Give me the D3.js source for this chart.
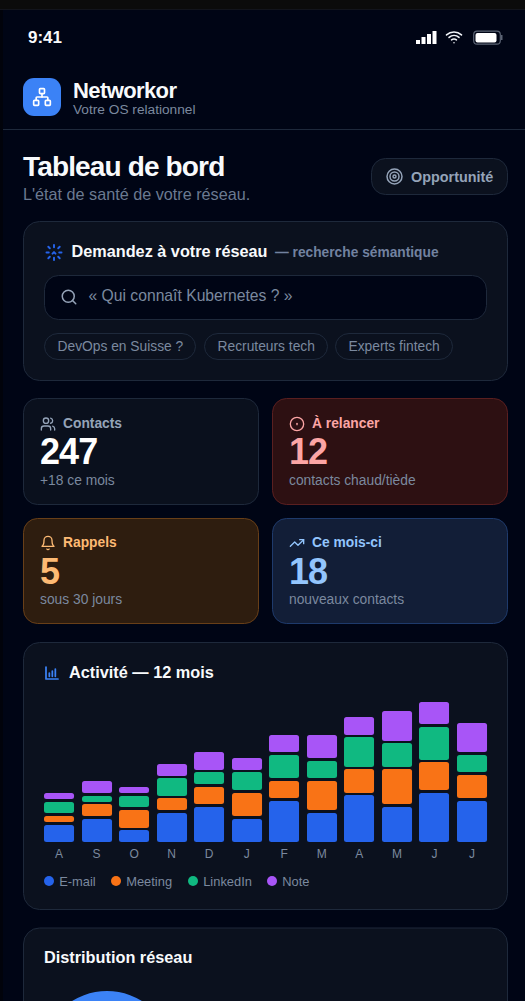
<!DOCTYPE html>
<html lang="fr"><head><meta charset="utf-8">
<script src="https://cdn.jsdelivr.net/npm/d3@7"></script>
<style>
html,body{margin:0;padding:0;background:#000515;overflow:hidden}
svg{display:block;font-family:"Liberation Sans",Arial,sans-serif}
</style></head><body>
<svg id="s" width="525" height="1001"></svg>
<script>
// ---- data ----
const months = ["A","S","O","N","D","J","F","M","A","M","J","J"];
const email    = [3,4,2,5,6,4,7,5,8,6,9,7];
const meeting  = [1,2,3,2,3,4,3,5,4,6,5,4];
const linkedin = [2,1,2,3,2,3,4,3,5,4,6,3];
const note     = [1,2,1,2,3,2,3,4,3,5,4,5];
const seriesNames = ["E-mail","Meeting","LinkedIn","Note"];
const seriesColors = ["#2563eb","#f97316","#10b981","#a855f7"];
const chips = ["DevOps en Suisse ?","Recruteurs tech","Experts fintech"];
const statTitles = ["Contacts","À relancer","Rappels","Ce mois-ci"];
const statValues = ["247","12","5","18"];
const statNotes = ["+18 ce mois","contacts chaud/tiède","sous 30 jours","nouveaux contacts"];

const svg = d3.select("#s");
const SUB="#7b899f", CARD="#0b111e", LINE="#1e293b";
function rect(x,y,w,h,r,fill,stroke){return svg.append("rect").attr("x",x+.5).attr("y",y+.5).attr("width",w-1).attr("height",h-1).attr("rx",r).attr("fill",fill).attr("stroke",stroke||"none");}
function text(s,x,y,size,fill,bold,ls,g){return (g||svg).append("text").attr("x",x).attr("y",y).attr("font-size",size).attr("fill",fill).attr("font-weight",bold?700:400).attr("letter-spacing",ls||null).text(s);}
function icon(cx,cy,size,color,sw,paths,circles){
  const g=svg.append("g").attr("transform",`translate(${cx-size/2},${cy-size/2}) scale(${size/24})`).attr("fill","none").attr("stroke",color).attr("stroke-width",sw).attr("stroke-linecap","round").attr("stroke-linejoin","round");
  (paths||[]).forEach(d=>g.append("path").attr("d",d));
  (circles||[]).forEach(c=>g.append("circle").attr("cx",c[0]).attr("cy",c[1]).attr("r",c[2]));
  return g;
}
// frame
svg.append("rect").attr("width",525).attr("height",9).attr("fill","#0b0b0b");
svg.append("rect").attr("y",9).attr("width",525).attr("height",1).attr("fill","#12141c");
svg.append("rect").attr("y",10).attr("width",3).attr("height",991).attr("fill","#01030b");
// status bar
text("9:41",28,43,17,"#f8fafc",true);
[4,7,10,13].forEach((h,i)=>svg.append("rect").attr("x",416+i*5.5).attr("y",44-h).attr("width",4).attr("height",h).attr("fill","#fff"));
icon(454,37,17,"#f1f5f9",2.2,["M5 12.55a11 11 0 0 1 14.08 0","M1.42 9a16 16 0 0 1 21.16 0","M8.53 16.11a6 6 0 0 1 6.95 0","M12 20h.01"]);
svg.append("rect").attr("x",473.7).attr("y",31.2).attr("width",26.6).attr("height",13).attr("rx",3.5).attr("fill","none").attr("stroke","#5b6474").attr("stroke-width",1.2);
svg.append("rect").attr("x",475.5).attr("y",33).attr("width",21).attr("height",9.5).attr("rx",2).attr("fill","#fff");
svg.append("rect").attr("x",501).attr("y",35).attr("width",1.5).attr("height",5).attr("fill","#5b6474");
// header
svg.append("rect").attr("x",23).attr("y",78).attr("width",38).attr("height",38).attr("rx",11).attr("fill","#3b82f6");
const net=icon(42,97,20,"#fff",2,["M5 16v-3a1 1 0 0 1 1-1h12a1 1 0 0 1 1 1v3","M12 12V8"]);
[[16,16],[2,16],[9,2]].forEach(p=>net.append("rect").attr("x",p[0]).attr("y",p[1]).attr("width",6).attr("height",6).attr("rx",1));
text("Networkor",73,97.7,22,"#f8fafc",true,-0.6);
text("Votre OS relationnel",73,113.7,13.7,SUB);
svg.append("rect").attr("x",3).attr("y",129).attr("width",522).attr("height",1).attr("fill",LINE);
text("Tableau de bord",23,176,28,"#f8fafc",true,-0.85);
text("L'état de santé de votre réseau.",23,199.5,16.2,"#6b7a91");
rect(371,158,137,37,14,"#0b111e",LINE);
icon(394.5,176.5,18,"#94a3b8",2,[],[[12,12,10],[12,12,6],[12,12,2]]);
text("Opportunité",411,181.5,14.4,"#94a3b8",true);
// ask card
rect(23,221,485,160,16,CARD,LINE);
icon(54,252.5,18,"#2563eb",2.6,["M12 2v3","M17.6 6.4l2-2","M19 12h3","M17.6 17.6l2 2","M12 19v3","M4.4 19.6l2-2","M2 12h3","M4.4 4.4l2 2","M10 13.5l2-2 2 2"]);
text("Demandez à votre réseau",71.5,257,16.25,"#f8fafc",true);
text("— recherche sémantique",275,257,13.75,"#7282a0",true);
rect(44,275,443,45,14,"#000515",LINE);
icon(69,297,18,"#94a3b8",2,["M21 21l-4.3-4.3"],[[11,11,8]]);
text("« Qui connaît Kubernetes ? »",88.5,301,15.7,SUB);
const chipX=[44,204,335], chipW=[152,124,118];
chips.forEach((c,i)=>{rect(chipX[i],333,chipW[i],27,13.5,"#0b111e",LINE);text(c,chipX[i]+13.5,351,13.8,SUB);});
// stat cards
const cardCfg=[
 {x:23,y:398,h:107,fill:"#0a101d",stroke:"#1e293b",tc:"#94a3b8",vc:"#fff"},
 {x:272,y:398,h:107,fill:"#2d1012",stroke:"#5a1f20",tc:"#fca5a5",vc:"#fca5a5"},
 {x:23,y:518,h:106,fill:"#2e1d0f",stroke:"#683f18",tc:"#fdba74",vc:"#fdba74"},
 {x:272,y:518,h:106,fill:"#121e37",stroke:"#1e3a6b",tc:"#93c5fd",vc:"#93c5fd"}];
cardCfg.forEach((c,i)=>{
  rect(c.x,c.y,236,c.h,14,c.fill,c.stroke);
  const row=i<2?0:120;
  text(statTitles[i],c.x+40,428+row-(i>1?.7:0),13.8,c.tc,true);
  text(statValues[i],c.x+17,464+row,36,c.vc,true,-0.9);
  text(statNotes[i],c.x+17,485+row-(i>1?1:0),13.8,SUB);
});
icon(48,424,16,"#94a3b8",2,["M16 21v-2a4 4 0 0 0-4-4H6a4 4 0 0 0-4 4v2","M22 21v-2a4 4 0 0 0-3-3.87","M16 3.13a4 4 0 0 1 0 7.75"],[[9,7,4]]);
icon(297,424,16,"#fca5a5",2,["M12 11v2"],[[12,12,10]]);
icon(48,543,16,"#fdba74",2,["M6 8a6 6 0 0 1 12 0c0 7 3 9 3 9H3s3-2 3-9","M10.3 21a1.94 1.94 0 0 0 3.4 0"]);
icon(297,543,16,"#93c5fd",2,["M22 7 13.5 15.5 8.5 10.5 2 17","M16 7h6v6"]);
// chart card
rect(23,642,485,268,16,CARD,LINE);
icon(52,673,16,"#3b82f6",2.6,["M3 3v18h18","M8 17v-5","M12.5 17V9","M17 17V6"]);
text("Activité — 12 mois",69,677.5,16.3,"#f8fafc",true);

const table = months.map((m,i)=>({i,"E-mail":email[i],"Meeting":meeting[i],"LinkedIn":linkedin[i],"Note":note[i]}));
const stack = d3.stack().keys(seriesNames)(table);
const x = d3.scaleBand().domain(d3.range(months.length)).range([44,487]).paddingInner(0.2);
const GAP=2.7, MAXH=140, BASE=842;
const h = d3.scaleLinear().domain([0,1]).range([0,5.83]);
const totals = table.map((d,i)=>email[i]+meeting[i]+linkedin[i]+note[i]);
const fit = i => Math.min(1,(MAXH-3*GAP)/h(totals[i]));
const topY = (v,k,i)=>Math.round(BASE-h(v)*fit(i)-k*GAP);
stack.forEach((layer,k)=>{
  svg.append("g").attr("fill",seriesColors[k]).selectAll("rect").data(layer).join("rect")
    .attr("x",(d,i)=>Math.round(x(i))).attr("width",x.bandwidth())
    .attr("y",(d,i)=>topY(d[1],k,i))
    .attr("height",(d,i)=>topY(d[0],k,i)-topY(d[1],k,i))
    .attr("rx",2.5);
});
const axis = svg.append("g").attr("transform",`translate(0,${BASE})`)
  .call(d3.axisBottom(x).tickFormat(i=>months[i]).tickSize(0).tickPadding(7));
axis.select(".domain").remove();
axis.selectAll("text").attr("font-size",12).attr("font-family","Liberation Sans").attr("fill","#7b899f").attr("dy",0).attr("y",16);
const legendDot=[49,116,193,272];
seriesNames.forEach((n,i)=>{
  svg.append("circle").attr("cx",legendDot[i]).attr("cy",881).attr("r",5).attr("fill",seriesColors[i]);
  text(n,legendDot[i]+10.2,886,12.9,SUB);
});
// distribution card (clipped by window)
rect(23,927.5,485,120,16,CARD,LINE);
text("Distribution réseau",44,962.5,16.3,"#f8fafc",true);
const arc=d3.arc().innerRadius(40).outerRadius(66).startAngle(-Math.PI/2.2).endAngle(Math.PI/2.2);
svg.append("path").attr("transform","translate(107,1057)").attr("d",arc()).attr("fill","#3b82f6");
</script></body></html>
